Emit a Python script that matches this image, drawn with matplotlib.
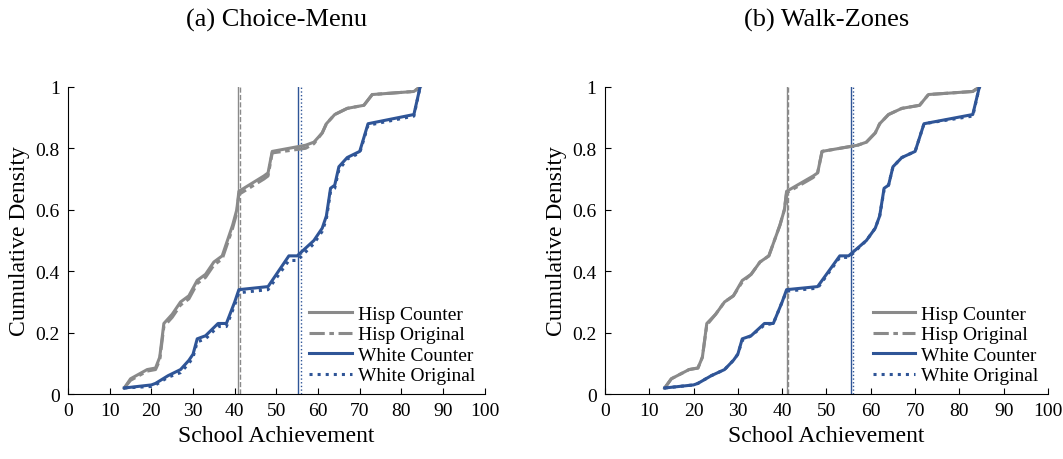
import matplotlib.pyplot as plt

plt.rcParams['font.family'] = ['Liberation Serif', 'DejaVu Serif']

GREY = '#8a8a8a'
BLUE = '#2f5597'

hisp_x = [13.5, 15, 17, 19, 21, 22, 23, 25, 27, 29, 31, 33, 35, 37, 38, 39.5, 40.5, 41, 47, 48, 49, 57, 59, 61, 62, 64, 67, 71, 73, 83, 84.5]
hisp_c = [0.02, 0.05, 0.065, 0.08, 0.085, 0.12, 0.23, 0.26, 0.30, 0.32, 0.37, 0.39, 0.43, 0.45, 0.49, 0.55, 0.60, 0.66, 0.71, 0.72, 0.79, 0.81, 0.82, 0.85, 0.88, 0.91, 0.93, 0.94, 0.975, 0.985, 1.0]
hisp_o_a = [0.02, 0.045, 0.06, 0.075, 0.08, 0.11, 0.22, 0.25, 0.29, 0.31, 0.36, 0.38, 0.42, 0.44, 0.48, 0.54, 0.59, 0.65, 0.70, 0.71, 0.785, 0.80, 0.815, 0.85, 0.88, 0.91, 0.93, 0.94, 0.975, 0.985, 1.0]
hisp_o_b = [0.02, 0.05, 0.065, 0.08, 0.085, 0.12, 0.225, 0.26, 0.30, 0.32, 0.365, 0.39, 0.43, 0.45, 0.49, 0.55, 0.60, 0.655, 0.705, 0.72, 0.79, 0.81, 0.82, 0.85, 0.88, 0.91, 0.93, 0.94, 0.975, 0.985, 1.0]

white_x = [13.5, 20, 21, 24, 27, 29, 30, 31, 33, 36, 38, 40, 41, 48, 53, 55, 59, 61, 62, 63, 64, 65, 67, 70, 72, 83, 84.5]
white_c = [0.02, 0.03, 0.035, 0.06, 0.08, 0.11, 0.13, 0.18, 0.19, 0.23, 0.23, 0.30, 0.34, 0.35, 0.45, 0.45, 0.50, 0.54, 0.58, 0.67, 0.68, 0.74, 0.77, 0.79, 0.88, 0.91, 1.0]
white_o_a = [0.02, 0.025, 0.03, 0.055, 0.07, 0.10, 0.12, 0.17, 0.18, 0.22, 0.22, 0.29, 0.33, 0.34, 0.435, 0.435, 0.49, 0.53, 0.57, 0.66, 0.67, 0.73, 0.765, 0.785, 0.875, 0.905, 1.0]
white_o_b = [0.02, 0.03, 0.035, 0.06, 0.08, 0.11, 0.13, 0.175, 0.19, 0.225, 0.23, 0.30, 0.335, 0.345, 0.445, 0.445, 0.50, 0.54, 0.58, 0.665, 0.68, 0.74, 0.77, 0.79, 0.88, 0.905, 1.0]

means_a = {'hc': 40.8, 'ho': 41.3, 'wc': 55.2, 'wo': 55.8}
means_b = {'hc': 41.2, 'ho': 41.4, 'wc': 55.6, 'wo': 55.9}

panels = [('(a) Choice-Menu', hisp_o_a, white_o_a, means_a),
          ('(b) Walk-Zones', hisp_o_b, white_o_b, means_b)]

fig = plt.figure(figsize=(10.63, 4.6), dpi=100)
ax_a = fig.add_axes([0.064, 0.141, 0.392, 0.668])
ax_b = fig.add_axes([0.569, 0.141, 0.417, 0.668])
for ax, (title, ho, wo, m) in zip([ax_a, ax_b], panels):
    ax.axvline(m['hc'], color=GREY, lw=1)
    ax.axvline(m['ho'], color=GREY, lw=1, ls='--')
    ax.axvline(m['wc'], color=BLUE, lw=1)
    ax.axvline(m['wo'], color=BLUE, lw=1, ls=':')
    ax.plot(hisp_x, hisp_c, color=GREY, lw=2.2, label='Hisp Counter')
    ax.plot(hisp_x, ho, color=GREY, lw=2.2, ls=(0, (5, 1.5, 1.5, 1.5)), label='Hisp Original')
    ax.plot(white_x, white_c, color=BLUE, lw=2.2, label='White Counter')
    ax.plot(white_x, wo, color=BLUE, lw=2.2, ls=':', label='White Original')
    ax.set_xlim(0, 100)
    ax.set_ylim(0, 1)
    ax.set_xticks(range(0, 101, 10))
    ax.set_yticks([0, 0.2, 0.4, 0.6, 0.8, 1])
    ax.set_yticklabels(['0', '0.2', '0.4', '0.6', '0.8', '1'])
    ax.tick_params(direction='in', labelsize=14, length=4, pad=6)
    for s in ['top', 'right']:
        ax.spines[s].set_visible(False)
    ax.set_xlabel('School Achievement', fontsize=17, labelpad=4)
    ax.set_ylabel('Cumulative Density', fontsize=17, labelpad=4)
    ax.set_title(title, fontsize=19, pad=44)
    ax.legend(loc='lower right', frameon=False, fontsize=14, handlelength=2.2,
              borderaxespad=0.1, labelspacing=0.15, handletextpad=0.3)

fig.savefig('out.png')
